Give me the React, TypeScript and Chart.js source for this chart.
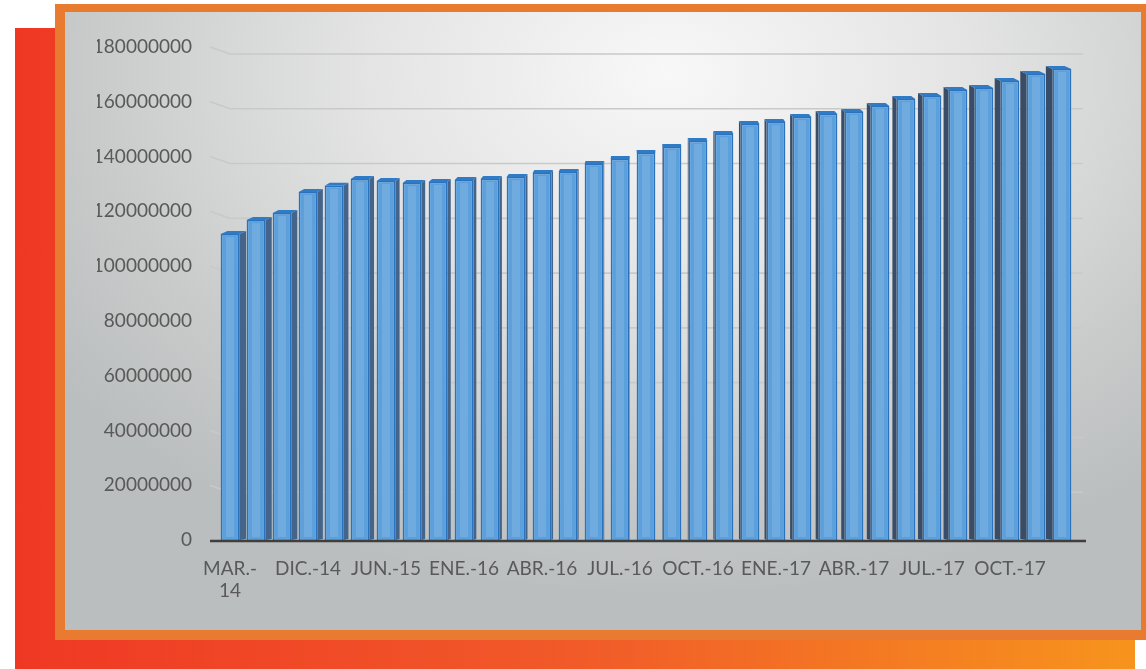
import React, { useEffect, useRef } from 'react';
import { Chart, registerables } from 'chart.js';

Chart.register(...registerables);

const categories = [
  'MAR.-14', 'JUN.-14', 'SEP.-14', 'DIC.-14', 'FEB.-15', 'ABR.-15', 'JUN.-15', 'SEP.-15', 'DIC.-15',
  'ENE.-16', 'FEB.-16', 'MAR.-16', 'ABR.-16', 'MAY.-16', 'JUN.-16', 'JUL.-16', 'AGO.-16', 'SEP.-16',
  'OCT.-16', 'NOV.-16', 'DIC.-16', 'ENE.-17', 'FEB.-17', 'MAR.-17', 'ABR.-17', 'MAY.-17', 'JUN.-17',
  'JUL.-17', 'AGO.-17', 'SEP.-17', 'OCT.-17', 'NOV.-17', 'DIC.-17',
];

const values = [
  111700000, 116800000, 119400000, 127100000, 129300000, 131800000, 131100000, 130300000, 130700000,
  131400000, 131800000, 132500000, 134000000, 134400000, 137300000, 139100000, 141300000, 143500000,
  145700000, 148200000, 151900000, 152600000, 154400000, 155500000, 156300000, 158500000, 161000000,
  162100000, 164300000, 165000000, 167600000, 170100000, 172000000,
];

const yMin = 0;
const yMax = 180000000;
const yStep = 20000000;
const labelEvery = 3;

const FONT = 'Lato, "Open Sans", sans-serif';

const depthPlugin = {
  id: 'depth3d',
  beforeDatasetsDraw(chart: any) {
    const { ctx, chartArea } = chart;
    const yScale = chart.scales.y;
    ctx.save();
    ctx.strokeStyle = '#c9c9c9';
    ctx.lineWidth = 1.6;
    for (let v = yMin + yStep; v <= yMax; v += yStep) {
      const y = yScale.getPixelForValue(v);
      ctx.beginPath();
      ctx.moveTo(chartArea.left - 7, y);
      ctx.lineTo(chartArea.left + 13, y + 7);
      ctx.lineTo(chartArea.right + 8, y + 7);
      ctx.stroke();
    }
    ctx.restore();

    const meta = chart.getDatasetMeta(0);
    const cx = (chartArea.left + chartArea.right) / 2;
    const half = (chartArea.right - chartArea.left) / 2;
    ctx.save();
    meta.data.forEach((el: any) => {
      const { x, y, base, width } = el.getProps(['x', 'y', 'base', 'width'], true);
      const l = x - width / 2;
      const r = x + width / 2;
      const d = 7 * (cx - x) / half;
      const up = 3;
      ctx.fillStyle = d >= 0 ? '#45648a' : '#3a4d68';
      ctx.beginPath();
      if (d >= 0) {
        ctx.moveTo(r, y);
        ctx.lineTo(r + d, y - up);
        ctx.lineTo(r + d, base - 1);
        ctx.lineTo(r, base);
      } else {
        ctx.moveTo(l, y);
        ctx.lineTo(l + d, y - up);
        ctx.lineTo(l + d, base - 1);
        ctx.lineTo(l, base);
      }
      ctx.closePath();
      ctx.fill();
      ctx.fillStyle = '#2f7bc6';
      ctx.beginPath();
      ctx.moveTo(l, y);
      ctx.lineTo(l + d, y - up);
      ctx.lineTo(r + d, y - up);
      ctx.lineTo(r, y);
      ctx.closePath();
      ctx.fill();
    });
    ctx.restore();
  },
  afterDatasetsDraw(chart: any) {
    const { ctx, chartArea } = chart;
    const meta = chart.getDatasetMeta(0);
    ctx.save();
    meta.data.forEach((el: any) => {
      const { x, y, base, width } = el.getProps(['x', 'y', 'base', 'width'], true);
      ctx.fillStyle = 'rgba(255,255,255,0.13)';
      ctx.fillRect(x - width * 0.22, y + 3, width * 0.44, base - y - 6);
    });
    const y0 = chart.scales.y.getPixelForValue(0) + 1;
    ctx.strokeStyle = '#3f3f3f';
    ctx.lineWidth = 2.5;
    ctx.beginPath();
    ctx.moveTo(chartArea.left - 7, y0);
    ctx.lineTo(chartArea.right + 11, y0);
    ctx.stroke();
    ctx.restore();
  },
};

export default function App() {
  const ref = useRef<HTMLCanvasElement | null>(null);

  useEffect(() => {
    if (!ref.current) return;
    const chart = new Chart(ref.current, {
      type: 'bar',
      data: {
        labels: categories,
        datasets: [
          {
            data: values,
            backgroundColor: '#5b9fdc',
            borderColor: '#2a72bd',
            borderWidth: 1.5,
            categoryPercentage: 1,
            barPercentage: 0.72,
          },
        ],
      },
      plugins: [depthPlugin],
      options: {
        responsive: false,
        animation: false,
        layout: { padding: { left: 97, right: 71, top: 47, bottom: 0 } },
        plugins: { legend: { display: false }, tooltip: { enabled: false } },
        scales: {
          x: {
            grid: { display: false, drawTicks: false },
            border: { display: false },
            afterFit: (s: any) => { s.height = 129; },
            ticks: {
              autoSkip: false,
              maxRotation: 0,
              minRotation: 0,
              padding: 17,
              color: '#595959',
              font: { family: FONT, size: 19 },
              callback: (_v: any, i: number) => {
                if (i % labelEvery !== 0) return '';
                const lab = categories[i];
                return i === 0 ? [lab.slice(0, 5), lab.slice(5)] : lab;
              },
            },
          },
          y: {
            min: yMin,
            max: yMax,
            grid: { display: false, drawTicks: false },
            border: { display: false },
            afterFit: (s: any) => { s.width = 120; },
            ticks: {
              stepSize: yStep,
              padding: 25,
              color: '#595959',
              font: { family: FONT, size: 19 },
              callback: (v: any) => String(v),
            },
          },
        },
      },
    });
    return () => chart.destroy();
  }, []);

  return (
    <div style={{ position: 'fixed', left: 0, top: 0, width: 1146, height: 669, overflow: 'hidden', background: '#ffffff' }}>
      <div style={{ position: 'absolute', left: 15, top: 28, width: 1120, height: 641, background: 'linear-gradient(90deg, #ef3824 0%, #f15a29 50%, #f7941d 100%)' }} />
      <div style={{ position: 'absolute', left: 55, top: 4, width: 1091, height: 636, background: '#e87b30' }} />
      <div style={{ position: 'absolute', left: 65, top: 12, width: 1076, height: 618, background: 'radial-gradient(ellipse 70% 85% at 56% 10%, #f8f8f8 0%, #e4e4e4 40%, #cacccc 75%, #bbbebe 100%)' }} />
      <canvas ref={ref} width={1146} height={669} style={{ position: 'absolute', left: 0, top: 0, width: 1146, height: 669 }} />
    </div>
  );
}
